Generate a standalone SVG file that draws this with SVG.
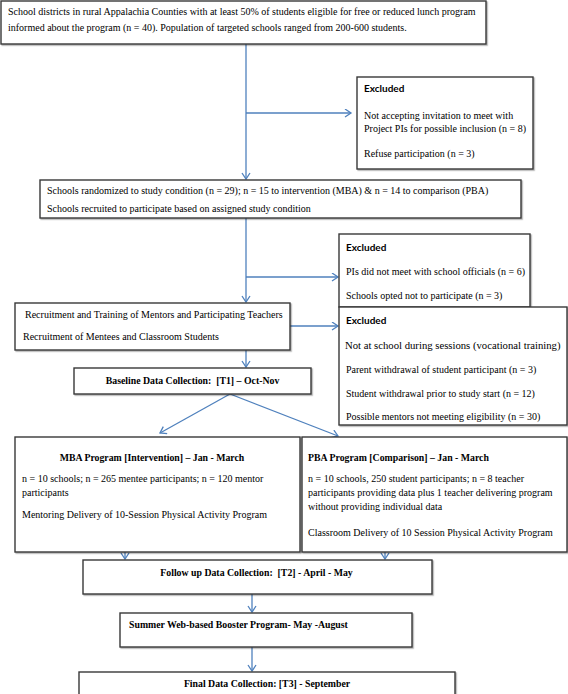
<svg xmlns="http://www.w3.org/2000/svg" width="568" height="694" viewBox="0 0 568 694">
<style>
.box{fill:#fff;stroke:#383838;stroke-width:1.4;filter:url(#sh)}
.t{font-family:"Liberation Serif","Times New Roman",serif;font-size:10px;fill:#000}
.b{font-family:"Liberation Serif","Times New Roman",serif;font-size:9.8px;font-weight:bold;fill:#000}
.x{font-family:Lato,"Liberation Sans",sans-serif;font-size:10px;font-weight:bold;fill:#000}
.c{fill:none;stroke:#4F81BD;stroke-width:1.3}
</style>
<defs>
<filter id="sh" x="-5%" y="-5%" width="110%" height="115%">
<feDropShadow dx="1.2" dy="1.2" stdDeviation="0.6" flood-color="#000" flood-opacity="0.3"/>
</filter>
<marker id="ah" markerUnits="userSpaceOnUse" markerWidth="12" markerHeight="12" refX="7" refY="4.5" orient="auto">
<path d="M1,0.5 L7,4.5 L1,8.5" fill="none" stroke="#4F81BD" stroke-width="1.3"/>
</marker>
</defs>
<rect width="568" height="694" fill="#fff"/>
<g id="connectors">
<path class="c" d="M246,44 V179" marker-end="url(#ah)"/>
<path class="c" d="M246,113 H351" marker-end="url(#ah)"/>
<path class="c" d="M246,218 V302" marker-end="url(#ah)"/>
<path class="c" d="M246,277 H338" marker-end="url(#ah)"/>
<path class="c" d="M290,326 H338" marker-end="url(#ah)"/>
<path class="c" d="M246,350 V367" marker-end="url(#ah)"/>
<path class="c" d="M230,394 L160,433" marker-end="url(#ah)"/>
<path class="c" d="M230,394 L338,436" marker-end="url(#ah)"/>
<path class="c" d="M125,552 V559" marker-end="url(#ah)"/>
<path class="c" d="M385,552 V559" marker-end="url(#ah)"/>
<path class="c" d="M252,594 V612" marker-end="url(#ah)"/>
<path class="c" d="M252,647 V671" marker-end="url(#ah)"/>
</g>
<g id="n1"><rect class="box" x="1" y="1" width="485" height="43"/>
<text class="t" x="8" y="15">School districts in rural Appalachia Counties with at least 50% of students eligible for free or reduced lunch program</text>
<text class="t" x="8" y="31">informed about the program (n = 40). Population of targeted schools ranged from 200-600 students.</text></g>
<g id="ex1"><rect class="box" x="357" y="77" width="176" height="92"/>
<text class="x" x="364" y="92">Excluded</text>
<text class="t" x="364" y="119">Not accepting invitation to meet with</text>
<text class="t" x="364" y="132">Project PIs for possible inclusion (n = 8)</text>
<text class="t" x="364" y="157">Refuse participation (n = 3)</text></g>
<g id="n2"><rect class="box" x="40" y="180" width="481" height="38"/>
<text class="t" x="47" y="194">Schools randomized to study condition (n = 29); n = 15 to intervention (MBA) &amp; n = 14 to comparison (PBA)</text>
<text class="t" x="47" y="212">Schools recruited to participate based on assigned study condition</text></g>
<g id="ex2"><rect class="box" x="339" y="234" width="191" height="73"/>
<text class="x" x="346" y="251">Excluded</text>
<text class="t" x="346" y="275">PIs did not meet with school officials (n = 6)</text>
<text class="t" x="346" y="299">Schools opted not to participate (n = 3)</text></g>
<g id="ex3"><rect class="box" x="339" y="307" width="228" height="118"/>
<text class="x" x="346" y="324">Excluded</text>
<text class="t" x="345" y="349" style="font-size:10.7px">Not at school during sessions (vocational training)</text>
<text class="t" x="346" y="373">Parent withdrawal of student participant (n = 3)</text>
<text class="t" x="346" y="397">Student withdrawal prior to study start (n = 12)</text>
<text class="t" x="346" y="420">Possible mentors not meeting eligibility (n = 30)</text></g>
<g id="n3"><rect class="box" x="15" y="303" width="275" height="47"/>
<text class="t" x="25" y="318">Recruitment and Training of Mentors and Participating Teachers</text>
<text class="t" x="23" y="340">Recruitment of Mentees and Classroom Students</text></g>
<g id="n4"><rect class="box" x="74" y="368" width="237" height="26"/>
<text class="b" x="192.5" y="384" text-anchor="middle" xml:space="preserve">Baseline Data Collection:  [T1] – Oct-Nov</text></g>
<g id="n5"><rect class="box" x="15" y="437" width="285" height="115"/>
<text class="b" x="152" y="461" text-anchor="middle">MBA Program [Intervention] – Jan - March</text>
<text class="t" x="22" y="482">n = 10 schools; n = 265 mentee participants; n = 120 mentor</text>
<text class="t" x="22" y="496">participants</text>
<text class="t" x="22" y="518">Mentoring Delivery of 10-Session Physical Activity Program</text></g>
<g id="n6"><rect class="box" x="302" y="437" width="265" height="115"/>
<text class="b" x="308" y="461">PBA Program [Comparison] – Jan - March</text>
<text class="t" x="308" y="482">n = 10 schools, 250 student participants; n = 8 teacher</text>
<text class="t" x="308" y="496">participants providing data plus 1 teacher delivering program</text>
<text class="t" x="308" y="510">without providing individual data</text>
<text class="t" x="308" y="536">Classroom Delivery of 10 Session Physical Activity Program</text></g>
<g id="n7"><rect class="box" x="83" y="560" width="349" height="34"/>
<text class="b" x="256.5" y="576" text-anchor="middle" xml:space="preserve">Follow up Data Collection:  [T2] - April - May</text></g>
<g id="n8"><rect class="box" x="120" y="613" width="292" height="34"/>
<text class="b" x="129" y="628">Summer Web-based Booster Program- May -August</text></g>
<g id="n9"><rect class="box" x="79" y="672" width="376" height="30"/>
<text class="b" x="267" y="687" text-anchor="middle">Final Data Collection: [T3] - September</text></g>
</svg>
